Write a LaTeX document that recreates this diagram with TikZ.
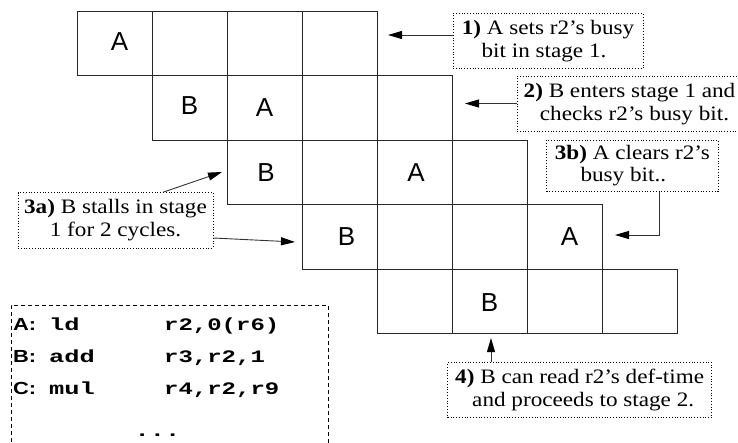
\documentclass[tikz,border=0pt]{standalone}
\usepackage{fontspec}
\usepackage{graphicx}
\setmainfont{Liberation Serif}
\newfontfamily\notefont{Liberation Serif}[FakeStretch=1.13]
\newfontfamily\cellfont{Liberation Sans}
\newfontfamily\labfont{Liberation Sans}[FakeStretch=1.25]
\newfontfamily\codefont{Liberation Mono}
\usetikzlibrary{arrows.meta}
\begin{document}
\begin{tikzpicture}[x=1pt,y=-1pt,
  cell/.style={draw=black!85, line width=0.9pt, minimum width=75pt, minimum height=64.5pt, inner sep=0pt, outer sep=0pt},
  letter/.style={font=\cellfont\fontsize{26}{26}\selectfont, inner sep=0pt},
  note/.style={draw, dotted, line width=0.8pt, align=center, inner sep=0pt, font=\notefont\fontsize{20.5}{22.5}\selectfont},
  arr/.style={-{Stealth[length=14pt,width=8pt,inset=0pt,fill=black,color=black]}, line width=0.9pt, draw=black!80},
  lab/.style={anchor=base west, inner sep=0pt, font=\labfont\bfseries\fontsize{17.5}{17.5}\selectfont},
  code/.style={anchor=base west, inner sep=0pt, font=\codefont\bfseries\fontsize{17.5}{17.5}\selectfont}
]
\useasboundingbox (0,0) rectangle (738,442);

% pipeline rows
\foreach \r in {1,...,5}{
  \foreach \c in {1,...,4}{
    \node[cell] (r\r c\c) at ({77+75*(\r-1)+75*(\c-1)+37.5},{11+64.5*(\r-1)+32.25}) {};
  }
}
\node[letter, xshift=5pt, yshift=1.5pt] (l1a) at (r1c1) {A};
\node[letter, yshift=2pt] (l2b) at (r2c1) {B};
\node[letter] (l2a) at (r2c2) {A};
\node[letter, xshift=1.5pt] (l3b) at (r3c1) {B};
\node[letter, xshift=1.5pt] (l3a) at (r3c3) {A};
\node[letter, xshift=7pt] (l4b) at (r4c1) {B};
\node[letter, xshift=5pt] (l4a) at (r4c4) {A};
\node[letter, yshift=-1.5pt] (l5b) at (r5c2) {B};

% notes
\node[note, minimum width=190pt, minimum height=55pt] (n1) at (548,41)
  {\textbf{1)} A sets r2’s busy\\\hspace*{-8pt}bit in stage 1.};
\node[note, minimum width=225pt, minimum height=55pt] (n2) at (629.5,104.2)
  {\textbf{2)} B enters stage 1 and\\\hspace*{10pt}checks r2’s busy bit.};
\node[note, minimum width=171.3pt, minimum height=51.7pt] (n3b) at (632.3,165.8)
  {\textbf{3b)} A clears r2’s\\\hspace*{-18pt}busy bit..};
\node[note, minimum width=195pt, minimum height=55.3pt] (n3a) at (115.5,220.3)
  {\textbf{3a)} B stalls in stage\\1 for 2 cycles.};
\node[note, minimum width=264pt, minimum height=55.4pt] (n4) at (579.7,390)
  {\textbf{4)} B can read r2’s def-time\\\hspace*{7pt}and proceeds to stage 2.};

% arrows
\coordinate (t1) at (388,35);
\coordinate (t2) at (465,103.5);
\coordinate (t3b) at (615,235);
\coordinate (t3a) at (222,172);
\coordinate (t3c) at (295,242);
\coordinate (t4) at (491,338);
\draw[arr] (n1.west |- t1) -- (t1);
\draw[arr] (n2.west |- t2) -- (t2);
\draw[arr] ([xshift=27pt]n3b.south) |- (t3b);
\draw[arr] ([xshift=47.5pt]n3a.north) -- (t3a);
\draw[arr] ([yshift=-17.7pt]n3a.east) -- (t3c);
\draw[arr] (n4.north -| t4) -- (t4);

% code box
\node[draw, line width=1pt, dash pattern=on 4pt off 3pt, minimum width=317pt, minimum height=150pt, inner sep=0pt] (cb) at (169.5,380) {};
\node[lab] (ca) at (13,330) {A:};
\node[code] (cam) at (49,330) {\scalebox{1.45}[1]{ld}};
\node[code] (cao) at (164,330) {\scalebox{1.37}[1]{r2,0(r6)}};
\node[lab] (cbl) at (13,362) {B:};
\node[code] (cbm) at (49,362) {\scalebox{1.45}[1]{add}};
\node[code] (cbo) at (164,362) {\scalebox{1.37}[1]{r3,r2,1}};
\node[lab] (ccl) at (13,394) {C:};
\node[code] (ccm) at (49,394) {\scalebox{1.45}[1]{mul}};
\node[code] (cco) at (164,394) {\scalebox{1.37}[1]{r4,r2,r9}};
\node[code, anchor=base] (cdots) at (157.5,436) {\scalebox{1.45}[1]{...}};
\end{tikzpicture}
\end{document}
